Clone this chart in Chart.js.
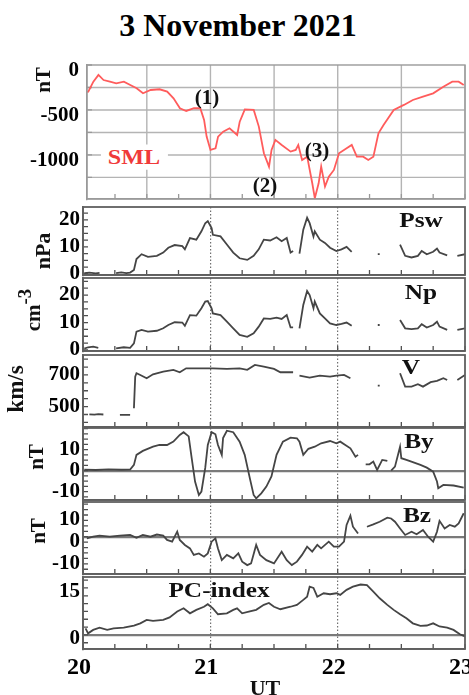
<!DOCTYPE html>
<html><head><meta charset="utf-8">
<script src="https://cdn.jsdelivr.net/npm/chart.js@4.4.0/dist/chart.umd.min.js"></script>
<style>
body{margin:0;background:#fff;width:469px;height:695px;overflow:hidden;position:relative;font-family:"Liberation Serif","Times New Roman",serif;}
canvas{position:absolute;left:0;}
.t{position:absolute;z-index:3;font-weight:bold;white-space:nowrap;line-height:1;color:#111;transform:translate(-50%,-50%);}
.r{transform:translate(-50%,-50%) rotate(-90deg);}
.s{transform:translate(-50%,-50%) scaleX(1.15);}
</style></head><body>
<script>
// ---------------- data (UT hour, value); null = data gap ----------------
const xTickLabels = [20, 21, 22, 23];
const smlData = [[20.03,-300],[20.04,-296],[20.08,-185],[20.12,-111],[20.16,-167],[20.21,-185],[20.26,-204],[20.32,-185],[20.37,-222],[20.42,-259],[20.47,-315],[20.53,-278],[20.60,-270],[20.66,-296],[20.71,-370],[20.76,-481],[20.81,-511],[20.87,-481],[20.92,-481],[20.95,-611],[20.97,-796],[21.00,-944],[21.04,-926],[21.06,-796],[21.10,-741],[21.15,-704],[21.21,-778],[21.23,-630],[21.27,-493],[21.34,-500],[21.38,-685],[21.42,-981],[21.46,-1130],[21.48,-944],[21.51,-833],[21.56,-889],[21.63,-963],[21.67,-944],[21.69,-889],[21.72,-1056],[21.76,-1019],[21.80,-1315],[21.82,-1481],[21.85,-1315],[21.87,-1130],[21.90,-1352],[21.93,-1241],[21.97,-1167],[22.01,-981],[22.07,-926],[22.11,-889],[22.15,-1019],[22.20,-1019],[22.24,-1056],[22.28,-1019],[22.32,-759],[22.36,-667],[22.44,-500],[22.52,-444],[22.59,-389],[22.67,-352],[22.75,-315],[22.83,-241],[22.90,-185],[22.95,-185],[22.99,-222]];
const pswData = [[20.01,0.3],[20.05,0.5],[20.10,0.2],[20.13,0.4],[20.2,null],[20.26,0.3],[20.30,0.6],[20.34,0.3],[20.37,0.5],[20.40,1.5],[20.42,5.5],[20.46,7.3],[20.51,6.3],[20.58,6.7],[20.63,7.9],[20.67,9.7],[20.72,10.7],[20.78,10.3],[20.80,9.1],[20.84,13.3],[20.89,12.7],[20.93,15.8],[20.96,18.8],[20.98,19.6],[21.01,17],[21.02,14.5],[21.08,13.9],[21.13,10.9],[21.18,7.9],[21.23,5.8],[21.29,5.2],[21.34,6.7],[21.38,9.1],[21.42,12.7],[21.47,12.4],[21.52,13.6],[21.56,12.1],[21.60,13.3],[21.63,7.9],[21.65,8.5],[21.67,null],[21.70,7.5],[21.73,16.4],[21.76,20.8],[21.78,18.8],[21.81,13.9],[21.82,15.8],[21.86,12.7],[21.90,11.5],[21.94,9.7],[21.99,8.5],[22.03,9.1],[22.07,10],[22.11,8.2],[22.2,null],[22.315,7.3],[22.33,7.3],[22.4,null],[22.49,10.9],[22.53,6.7],[22.58,6.1],[22.63,6.7],[22.66,8.5],[22.70,7.3],[22.75,8.2],[22.78,9.4],[22.80,7.9],[22.86,6.9],[22.9,null],[22.94,6.7],[23.00,7.3]];
const npData = [[20.01,0.5],[20.04,1],[20.08,1.2],[20.12,0.8],[20.2,null],[20.26,0.6],[20.32,1],[20.37,0.8],[20.40,2.4],[20.42,6.7],[20.46,7.3],[20.51,6.7],[20.58,7],[20.63,7.9],[20.67,9.1],[20.72,10.1],[20.78,10],[20.80,8.8],[20.84,12.7],[20.89,12.5],[20.93,15.2],[20.96,17.6],[20.98,17.8],[21.01,15.2],[21.02,13.3],[21.08,12.7],[21.13,10.3],[21.18,7.9],[21.23,5.5],[21.29,4.8],[21.34,6.1],[21.38,8.5],[21.42,11.5],[21.47,11.3],[21.52,11.8],[21.56,11.3],[21.60,12.7],[21.63,8.2],[21.65,8.2],[21.67,null],[21.70,7.9],[21.73,16.4],[21.76,21.5],[21.78,20],[21.81,15.2],[21.82,17.6],[21.86,13.3],[21.90,11.5],[21.94,9.7],[21.99,9.1],[22.03,9.5],[22.07,10],[22.11,8.8],[22.2,null],[22.315,9.1],[22.33,9.1],[22.4,null],[22.49,10.9],[22.53,7.9],[22.58,7.6],[22.63,7.9],[22.66,9.4],[22.70,8.2],[22.75,9.1],[22.78,10.3],[22.80,8.5],[22.86,7.3],[22.9,null],[22.94,7.3],[23.00,7.9]];
const vData = [[20.05,451],[20.09,449],[20.12,452],[20.16,450],[20.22,null],[20.29,447],[20.33,448],[20.37,447],[20.39,null],[20.40,489],[20.41,689],[20.42,711],[20.45,700],[20.50,679],[20.55,704],[20.63,721],[20.71,732],[20.76,717],[20.81,742],[20.92,742],[21.02,742],[21.13,738],[21.23,742],[21.29,732],[21.35,763],[21.42,753],[21.50,738],[21.55,717],[21.65,717],[21.67,null],[21.70,696],[21.78,683],[21.86,696],[21.94,689],[21.99,696],[22.05,700],[22.10,679],[22.2,null],[22.315,632],[22.33,632],[22.4,null],[22.49,711],[22.53,626],[22.58,626],[22.63,641],[22.67,626],[22.73,654],[22.78,662],[22.83,679],[22.86,668],[22.9,null],[22.94,668],[23.00,700]];
const byData = [[20.01,0.5],[20.10,0.3],[20.20,0.6],[20.30,0.4],[20.37,0.5],[20.40,2.7],[20.42,7.5],[20.47,9.4],[20.55,11.4],[20.60,12.2],[20.66,12.2],[20.71,13.8],[20.76,17],[20.79,18.3],[20.83,16.3],[20.85,7.5],[20.88,-5.2],[20.91,-11.6],[20.93,-10],[20.96,1.3],[20.98,12.2],[21.01,18.3],[21.04,17.3],[21.06,12.2],[21.09,7.5],[21.10,15.5],[21.13,19],[21.18,18.3],[21.23,13.8],[21.27,7.5],[21.31,-3.6],[21.34,-11.6],[21.36,-13.2],[21.40,-10.8],[21.44,-7.6],[21.48,-2.8],[21.52,7.5],[21.57,13.8],[21.63,15.7],[21.68,15.4],[21.70,13.8],[21.73,7.5],[21.77,10.4],[21.82,11.4],[21.87,13],[21.94,14.1],[21.99,13],[22.02,13.8],[22.06,12.2],[22.10,10.6],[22.14,6.6],[22.16,7.5],[22.19,null],[22.22,3],[22.25,3],[22.28,4.3],[22.31,0.3],[22.35,5.1],[22.39,4.6],[22.405,null],[22.42,0],[22.45,1.9],[22.48,9],[22.49,11.4],[22.50,5.9],[22.54,5.1],[22.59,4],[22.65,2.7],[22.70,1.4],[22.75,-0.5],[22.78,-5.2],[22.79,-8.4],[22.83,-6.8],[22.91,-7.1],[22.99,-8.1]];
const bzData = [[20.03,-0.8],[20.08,0],[20.13,0.5],[20.21,0],[20.29,0.5],[20.37,0.8],[20.42,-0.5],[20.47,0.8],[20.53,0],[20.58,1],[20.63,0.5],[20.66,-1.5],[20.70,-2.3],[20.74,2.3],[20.76,-1.5],[20.80,-3.8],[20.84,-5.4],[20.87,-8.4],[20.91,-7.7],[20.95,-9.2],[20.98,-7.7],[21.01,-2.3],[21.04,-0.8],[21.06,-5.4],[21.09,-10.8],[21.13,-8.4],[21.18,-10],[21.22,-7.7],[21.25,-11.5],[21.29,-13.1],[21.32,-12.3],[21.36,-3.8],[21.39,-8.4],[21.44,-10.8],[21.50,-12.3],[21.56,-6.9],[21.60,-10.8],[21.64,-13.1],[21.68,-11.5],[21.72,-8.4],[21.76,-4.6],[21.80,-6.9],[21.84,-3.8],[21.87,-5.4],[21.93,-2.3],[21.97,-4.6],[22.01,-4.6],[22.05,-2.3],[22.07,5.4],[22.10,9.7],[22.12,4.6],[22.16,1.5],[22.19,null],[22.23,4.6],[22.28,5.7],[22.33,6.9],[22.39,8.8],[22.42,8.4],[22.45,6.9],[22.49,3.8],[22.53,0.8],[22.58,2.3],[22.62,1.1],[22.67,3.1],[22.71,0],[22.75,-2.3],[22.78,2.3],[22.80,7.3],[22.84,3.8],[22.88,5.4],[22.92,4.6],[22.95,6.1],[22.99,10.8]];
const pcData = [[20.02,2.1],[20.04,0.5],[20.08,1.6],[20.13,2.3],[20.19,1.6],[20.24,2.1],[20.32,2.3],[20.40,3],[20.45,3.7],[20.50,4.8],[20.55,4.5],[20.63,4.8],[20.68,5.6],[20.74,7.5],[20.79,8.5],[20.84,6.9],[20.89,8],[20.95,9],[20.98,9.8],[21.02,8.5],[21.06,6.6],[21.13,6.9],[21.18,8],[21.21,8.5],[21.25,6.9],[21.31,7.5],[21.36,8],[21.42,9.6],[21.46,10.2],[21.50,9],[21.55,8.2],[21.63,9],[21.68,9.6],[21.73,11.2],[21.76,12.2],[21.78,15.4],[21.81,15],[21.84,12.2],[21.89,13.3],[21.94,13],[21.99,13.3],[22.02,12.8],[22.07,14.4],[22.12,15.4],[22.18,16.1],[22.23,15.9],[22.28,13.8],[22.33,11.7],[22.39,9.6],[22.44,8],[22.49,6.6],[22.54,5.3],[22.59,3.7],[22.65,2.9],[22.70,3],[22.75,3.7],[22.80,2.7],[22.86,2.3],[22.91,1.6],[22.96,0.2],[23.00,-0.5]];
// labelled y ticks per panel
const smlTicks = [0, -500, -1000];
const pswTicks = [0, 10, 20];
const npTicks = [0, 10, 20];
const vTicks = [500, 700];
const byTicks = [10, 0, -10];
const bzTicks = [10, 0, -10];
const pcTicks = [0, 15];

// ---------------- layout ----------------
const FONT = '"Liberation Serif","Times New Roman",serif';
const panels = [
  {data: smlData, labels: smlTicks, top: 65, bottom: 199, left: 87, xmin: 20.03, min: -1490, max: 0, step: 250, sml: true, color: '#ff5c5c', pad: 13, off: 6},
  {data: pswData, labels: pswTicks, top: 207, bottom: 275, left: 83, xmin: 20, min: -0.4, max: 24.8, step: 2.5, pad: 8, off: 0},
  {data: npData, labels: npTicks, top: 278, bottom: 351, left: 83, xmin: 20, min: -0.36, max: 26.2, step: 2.5, pad: 8, off: 0},
  {data: vData, labels: vTicks, top: 355, bottom: 427, left: 83, xmin: 20, min: 371, max: 826, step: 50, pad: 8, off: 0},
  {data: byData, labels: byTicks, top: 428, bottom: 500, left: 83, xmin: 20, min: -14, max: 20.3, step: 2.5, zero: true, pad: 8, off: 0},
  {data: bzData, labels: bzTicks, top: 502, bottom: 574, left: 83, xmin: 20, min: -17.2, max: 16, step: 2.5, zero: true, pad: 8, off: 5},
  {data: pcData, labels: pcTicks, top: 577, bottom: 649, left: 83, xmin: 20, min: -4.5, max: 18.5, step: 2.5, zero: true, pad: 8, off: 4, last: true}
];

function tickRange(a, b, step) {
  const out = [];
  const k0 = Math.ceil(a / step - 1e-9), k1 = Math.floor(b / step + 1e-9);
  for (let k = k0; k <= k1; k++) out.push({value: k * step});
  return out;
}
function isHalfHour(v) { return Math.abs(v * 2 - Math.round(v * 2)) < 1e-9; }

// frame, SML grid and inward tick marks, placed through each chart's own scales
function makeDecor(p) {
  const frameCol = p.sml ? '#9a9a9a' : '#606060';
  return {
    id: 'decor',
    beforeDatasetsDraw(chart) {
      try {
        const a = chart.chartArea, ctx = chart.ctx, xs = chart.scales.x, ys = chart.scales.y;
        ctx.save();
        if (p.sml) {
          ctx.strokeStyle = '#b4b4b4'; ctx.lineWidth = 1.4; ctx.setLineDash([]);
          ctx.beginPath();
          ys.ticks.forEach(t => { const y = ys.getPixelForValue(t.value); if (y > a.top + 1 && y < a.bottom - 1) { ctx.moveTo(a.left, y); ctx.lineTo(a.right, y); } });
          xs.ticks.forEach(t => { if (!isHalfHour(t.value)) return; const x = xs.getPixelForValue(t.value); ctx.moveTo(x, a.top); ctx.lineTo(x, a.bottom); });
          ctx.stroke();
        }
        ctx.strokeStyle = p.sml ? '#999' : '#505050'; ctx.lineWidth = 1.3; ctx.setLineDash([]);
        ctx.beginPath();
        ys.ticks.forEach(t => { const y = ys.getPixelForValue(t.value); ctx.moveTo(a.left, y); ctx.lineTo(a.left + 5, y); });
        xs.ticks.forEach(t => { const x = xs.getPixelForValue(t.value); ctx.moveTo(x, a.bottom); ctx.lineTo(x, a.bottom - 5); });
        ctx.stroke();
        ctx.restore();
      } catch (e) {}
    },
    afterDraw(chart) {
      const a = chart.chartArea, ctx = chart.ctx;
      ctx.save();
      ctx.strokeStyle = frameCol; ctx.lineWidth = p.sml ? 1.4 : 1.8;
      ctx.strokeRect(a.left, a.top, a.right - a.left, a.bottom - a.top);
      ctx.restore();
    }
  };
}

panels.forEach(p => {
  const padT = 12;
  const axisH = p.last ? 30 : 0;
  const cTop = p.top - padT;
  const cBottom = p.last ? 695 : p.bottom + 12;
  const H = cBottom - cTop;
  const padB = cBottom - p.bottom - axisH;
  const c = document.createElement('canvas');
  c.width = 469; c.height = H;
  c.style.top = cTop + 'px'; c.style.width = '469px'; c.style.height = H + 'px';
  c.style.zIndex = p.sml ? 2 : 1;
  document.body.appendChild(c);
  const pts = p.data.map(d => ({x: d[0], y: d[1]}));
  const frameCol = p.sml ? '#9a9a9a' : '#606060';
  new Chart(c, {
    type: 'line',
    data: {datasets: [{data: pts, borderColor: p.color || '#454545', borderWidth: 1.8, pointRadius: 0, tension: 0, spanGaps: false, fill: false}]},
    options: {
      responsive: false, animation: false, devicePixelRatio: 1,
      layout: {padding: {top: padT, bottom: padB, left: 0, right: 4}},
      plugins: {legend: {display: false}, tooltip: {enabled: false}},
      scales: {
        x: {
          type: 'linear', min: p.xmin, max: 23, position: 'bottom',
          afterBuildTicks: s => { s.ticks = tickRange(p.xmin, 23, 0.25); },
          afterFit: s => { s.height = axisH; s.paddingLeft = 0; s.paddingRight = 0; },
          ticks: {display: !!p.last, autoSkip: false, maxRotation: 0,
            callback: v => (xTickLabels.includes(v) ? String(v) : ''),
            font: {family: FONT, size: 24, weight: 'bold'}, color: '#000', padding: 4, labelOffset: -4},
          grid: {drawOnChartArea: true, drawTicks: false,
            color: ctx => {
              const v = ctx.tick ? ctx.tick.value : NaN;
              if (p.sml) return 'rgba(0,0,0,0)';
              return (v === 21 || v === 22) ? '#707070' : 'rgba(0,0,0,0)';
            },
            lineWidth: 1.2},
          border: {display: true, color: frameCol, width: p.sml ? 1.4 : 1.8, dash: p.sml ? [] : [1.5, 2]}
        },
        y: {
          type: 'linear', min: p.min, max: p.max, position: 'left',
          afterBuildTicks: s => { s.ticks = tickRange(p.min, p.max, p.step); },
          afterFit: s => { s.width = p.left; s.paddingTop = 0; s.paddingBottom = 0; },
          ticks: {autoSkip: false, callback: v => (p.labels.includes(v) ? String(v) : ''),
            font: {family: FONT, size: 21, weight: 'bold'}, color: '#000', padding: p.pad - 5, labelOffset: p.off},
          grid: {drawOnChartArea: true, drawTicks: false,
            color: ctx => {
              const v = ctx.tick ? ctx.tick.value : NaN;
              if (p.zero && v === 0) return '#7a7a7a';
              return 'rgba(0,0,0,0)';
            },
            lineWidth: 2.2},
          border: {display: true, color: frameCol, width: p.sml ? 1.4 : 1.8}
        }
      }
    },
    plugins: [makeDecor(p)]
  });
});
</script>
<div class="t" style="left:238px;top:25px;font-size:32px;color:#000;">3 November 2021</div>
<div class="t" style="left:207px;top:97px;font-size:21px;">(1)</div>
<div class="t" style="left:265px;top:185px;font-size:21px;">(2)</div>
<div class="t" style="left:317px;top:150px;font-size:21px;">(3)</div>
<div class="t s" style="left:134px;top:157px;font-size:21px;color:#f03a3a;background:#fff;padding:2px 6px;">SML</div>
<div class="t s" style="left:421px;top:220px;font-size:22px;">Psw</div>
<div class="t s" style="left:421px;top:292px;font-size:22px;">Np</div>
<div class="t s" style="left:411px;top:367px;font-size:22px;">V</div>
<div class="t s" style="left:419px;top:441px;font-size:22px;">By</div>
<div class="t s" style="left:417px;top:515px;font-size:22px;">Bz</div>
<div class="t s" style="left:219px;top:590px;font-size:22px;">PC-index</div>
<div class="t r" style="left:43px;top:80px;font-size:21px;">nT</div>
<div class="t r" style="left:43px;top:251px;font-size:22px;">nPa</div>
<div class="t r" style="left:30px;top:310px;font-size:21px;">cm<span style="font-size:0.9em;vertical-align:0.45em;">-3</span></div>
<div class="t r" style="left:15px;top:389px;font-size:23px;">km/s</div>
<div class="t r" style="left:36px;top:457px;font-size:21px;">nT</div>
<div class="t r" style="left:38px;top:531px;font-size:21px;">nT</div>
<div class="t" style="left:265px;top:688px;font-size:22px;">UT</div>
</body></html>
